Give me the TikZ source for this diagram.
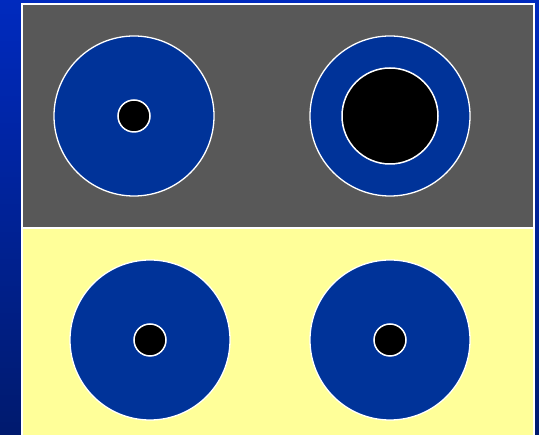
\documentclass[tikz,border=0pt]{standalone}
\usetikzlibrary{shapes.geometric}
\definecolor{bgtop}{RGB}{0,42,190}
\definecolor{bgbot}{RGB}{0,26,110}
\definecolor{panelgray}{RGB}{88,88,88}
\definecolor{panelyellow}{RGB}{255,255,153}
\definecolor{discblue}{RGB}{0,51,153}
\tikzset{
  disc/.style={circle,fill=discblue,draw=white,line width=1.3pt,minimum size=160pt,inner sep=0pt},
  hole/.style={circle,fill=black,draw=white,line width=1.5pt,inner sep=0pt},
}
\begin{document}
\begin{tikzpicture}[x=1pt,y=-1pt]
\path[top color=bgtop,bottom color=bgbot] (0,0) rectangle (539,435);
\useasboundingbox (0,0) rectangle (539,435);
\path[fill=panelyellow,draw=white,line width=2pt] (22,228) rectangle (534,440);
\path[fill=panelgray,draw=white,line width=2pt] (22,4) rectangle (534,228);
\node[disc] (tl) at (134,116) {};
\node[hole,minimum size=32pt] (tlh) at (tl) {};
\node[disc] (tr) at (390,116) {};
\node[hole,minimum size=96pt] (trh) at (tr) {};
\node[disc] (bl) at (150,340) {};
\node[hole,minimum size=32pt] (blh) at (bl) {};
\node[disc] (br) at (390,340) {};
\node[hole,minimum size=32pt] (brh) at (br) {};
\end{tikzpicture}
\end{document}
